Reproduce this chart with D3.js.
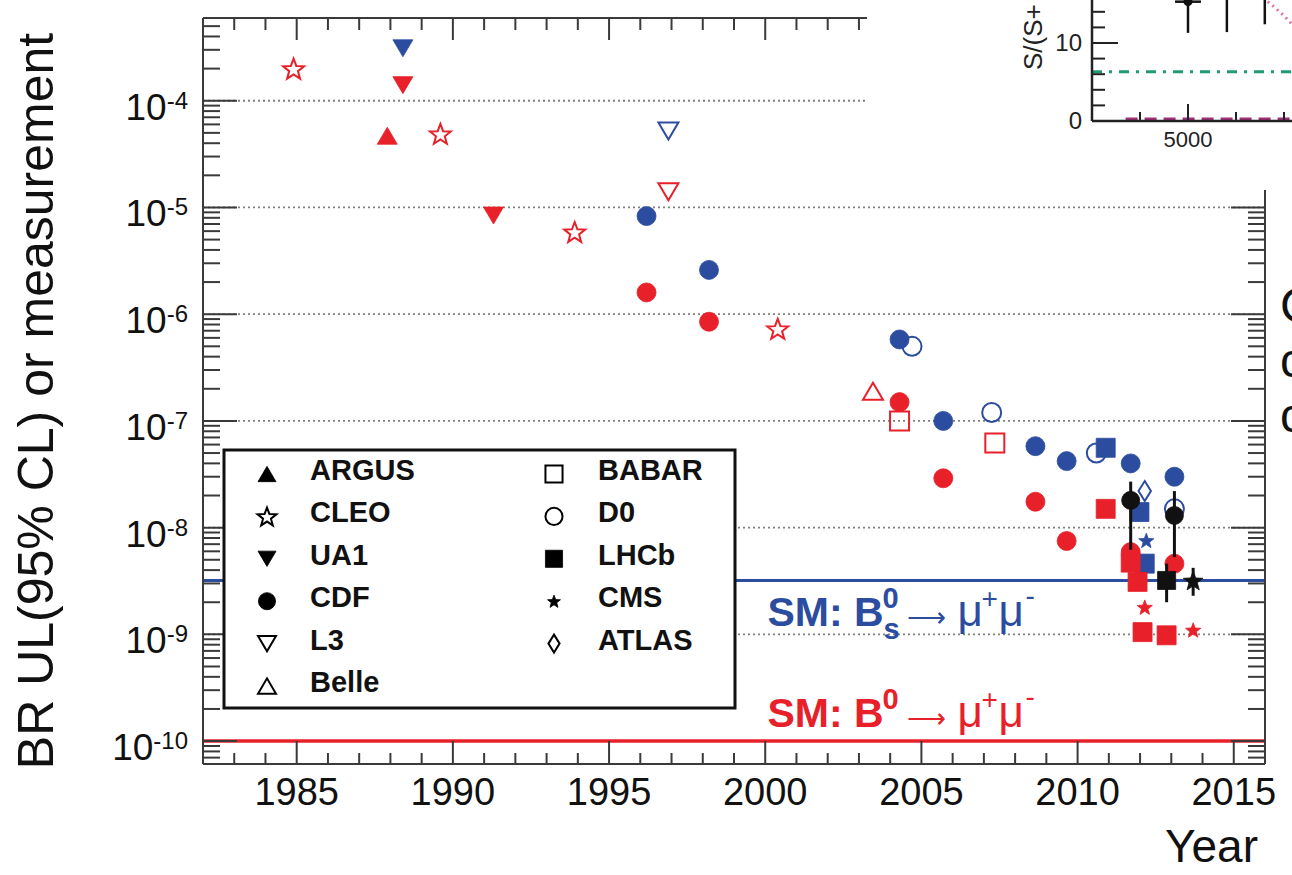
<!DOCTYPE html>
<html><head><meta charset="utf-8">
<script src="https://cdn.jsdelivr.net/npm/d3@7"></script>
<style>
html,body{margin:0;padding:0;background:#fff;}
svg{display:block;}
text{font-family:"Liberation Sans", Arial, Helvetica, sans-serif;}
</style></head><body>
<svg id="chart" width="1292" height="875"></svg>
<script>
// ---------------- data ----------------
const experiments = ["ARGUS","CLEO","UA1","CDF","L3","Belle","BABAR","D0","LHCb","CMS","ATLAS"];
const legendLeft  = ["ARGUS","CLEO","UA1","CDF","L3","Belle"];
const legendRight = ["BABAR","D0","LHCb","CMS","ATLAS"];

// Bs -> mu mu upper limits (blue): [experiment, year, BR]
const bsLimits = [
  ["UA1",1988.4,3.1e-4],["L3",1996.9,5.2e-5],["CDF",1996.2,8.3e-6],["CDF",1998.2,2.6e-6],
  ["CDF",2004.3,5.8e-7],["D0",2004.7,5.0e-7],["CDF",2005.7,1.0e-7],["D0",2007.25,1.2e-7],
  ["CDF",2008.65,5.8e-8],["CDF",2009.65,4.2e-8],["D0",2010.6,5.0e-8],["LHCb",2010.9,5.6e-8],
  ["CDF",2011.7,4.0e-8],["LHCb",2011.98,1.4e-8],["ATLAS",2012.15,2.2e-8],["CMS",2012.2,7.6e-9],
  ["LHCb",2012.15,4.6e-9],["D0",2013.1,1.5e-8],["CDF",2013.1,3.0e-8]
];
// B0 -> mu mu upper limits (red)
const b0Limits = [
  ["CLEO",1984.9,2.0e-4],["UA1",1988.4,1.4e-4],["ARGUS",1987.9,4.7e-5],["CLEO",1989.6,4.9e-5],
  ["UA1",1991.3,8.4e-6],["CLEO",1993.9,5.9e-6],["L3",1996.9,1.4e-5],["CDF",1996.2,1.6e-6],
  ["CDF",1998.2,8.5e-7],["CLEO",2000.4,7.3e-7],["Belle",2003.45,1.9e-7],["CDF",2004.3,1.5e-7],
  ["BABAR",2004.3,1.0e-7],["CDF",2005.7,2.9e-8],["BABAR",2007.35,6.2e-8],["CDF",2008.65,1.75e-8],
  ["CDF",2009.65,7.5e-9],["LHCb",2010.9,1.5e-8],["LHCb",2011.7,4.7e-9],["CDF",2011.7,5.9e-9],
  ["LHCb",2011.92,3.1e-9],["CMS",2012.15,1.8e-9],["LHCb",2012.08,1.05e-9],["LHCb",2012.85,9.8e-10],
  ["CDF",2013.1,4.6e-9],["CMS",2013.7,1.1e-9]
];
// Bs -> mu mu measurements (black): [experiment, year, BR, low, high]
const measurements = [
  ["CDF",2011.7,1.8e-8,6.2e-9,2.7e-8],
  ["LHCb",2012.85,3.2e-9,2.0e-9,4.6e-9],
  ["CDF",2013.1,1.3e-8,5.3e-9,2.2e-8],
  ["CMS",2013.7,3.2e-9,2.3e-9,4.2e-9]
];
const smBs = 3.2e-9;
const smB0 = 1.0e-10;

const xMajorTicks = [1985,1990,1995,2000,2005,2010,2015];
const xTickLabels = ["1985","1990","1995","2000","2005","2010","2015"];
const yMajorExps = [-10,-9,-8,-7,-6,-5,-4];
const yTickLabels = ["-10","-9","-8","-7","-6","-5","-4"];

// fragment of an overlapping figure in the top-right corner
const insetXTicksMajor = [5000];
const insetXTicksMinor = [4000,6000,7000];
const insetYTicksMajor = [0,10];
const insetYTicksMinor = [2,4,6,8,12,14];
const insetPtsX = [5000,5810,6600];
const insetPtsY = [15.3,16.5,17.5];
const insetPtsLo = [11.3,11.4,12.4];
const insetPtsHi = [19,20,21];
const insetLevel = 6.3;
const insetCurveX = [6660,6800,7000,7200];
const insetCurveY = [15.3,14.6,13.5,12.2];

// ---------------- scales ----------------
const svg = d3.select("#chart");
const x = d3.scaleLinear().domain([1982, 2016]).range([203, 1265]);
const y = d3.scaleLog().domain([6.1e-11, 5.96e-4]).range([764, 18]);
const X0 = x.range()[0], X1 = x.range()[1], Y0 = y.range()[0], Y1 = y.range()[1];

const BLUE = "#2c4c9f", RED = "#e8202a", BLACK = "#111";
const AX = "#3a3a3a";

const markerSpec = {
  ARGUS:{shape:"triUp",open:false,size:20}, CLEO:{shape:"star",open:true,size:22},
  UA1:{shape:"triDown",open:false,size:20}, CDF:{shape:"circle",open:false,size:19},
  L3:{shape:"triDown",open:true,size:20}, Belle:{shape:"triUp",open:true,size:20},
  BABAR:{shape:"square",open:true,size:19}, D0:{shape:"circle",open:true,size:19},
  LHCb:{shape:"square",open:false,size:19}, CMS:{shape:"star",open:false,size:16},
  ATLAS:{shape:"diamond",open:true,size:20}
};
function shapePath(shape, s){
  const h = s/2;
  switch(shape){
    case "triUp": { const t=s*0.85/2; return `M${-h},${t}L${h},${t}L0,${-t}Z`; }
    case "triDown": { const t=s*0.85/2; return `M${-h},${-t}L${h},${-t}L0,${t}Z`; }
    case "circle": return `M${h},0A${h},${h} 0 1,1 ${-h},0A${h},${h} 0 1,1 ${h},0Z`;
    case "square": return `M${-h},${-h}H${h}V${h}H${-h}Z`;
    case "star": { let p=""; for(let i=0;i<10;i++){ const r=i%2?h*0.42:h; const a=-Math.PI/2+i*Math.PI/5;
        p+=(i?"L":"M")+(r*Math.cos(a)).toFixed(2)+","+(r*Math.sin(a)+h*0.1).toFixed(2);} return p+"Z"; }
    case "diamond": return `M0,${-h}L${h*0.62},0L0,${h}L${-h*0.62},0Z`;
  }
}
function drawMarker(g, exp, cx, cy, color, scale){
  const m = markerSpec[exp];
  const s = m.size*(scale||1);
  g.append("path").attr("d", shapePath(m.shape, s))
    .attr("transform", `translate(${cx},${cy})`)
    .attr("fill", m.open ? "none" : color)
    .attr("stroke", color)
    .attr("stroke-width", m.open ? 2 : 0.8);
}

// ---------------- grid ----------------
svg.append("g").selectAll("line").data(yMajorExps.filter(e=>e>-10)).join("line")
  .attr("x1", X0).attr("x2", X1)
  .attr("y1", d=>y(Math.pow(10,d))).attr("y2", d=>y(Math.pow(10,d)))
  .attr("stroke", "#808080").attr("stroke-width", 1.8).attr("stroke-dasharray", "2,3");

// ---------------- SM lines ----------------
svg.append("line").attr("x1",X0).attr("x2",X1).attr("y1",y(smBs)).attr("y2",y(smBs))
  .attr("stroke",BLUE).attr("stroke-width",3);
svg.append("line").attr("x1",X0).attr("x2",X1).attr("y1",y(smB0)).attr("y2",y(smB0))
  .attr("stroke",RED).attr("stroke-width",3.5);

// ---------------- axes ----------------
const axes = svg.append("g").attr("stroke", AX).attr("stroke-width", 2);
axes.append("line").attr("x1",X0).attr("x2",X0).attr("y1",Y1).attr("y2",Y0);
axes.append("line").attr("x1",X1).attr("x2",X1).attr("y1",Y1).attr("y2",Y0);
axes.append("line").attr("x1",X0).attr("x2",X1).attr("y1",Y0).attr("y2",Y0);
axes.append("line").attr("x1",X0).attr("x2",X1).attr("y1",Y1).attr("y2",Y1);

const xMinor = d3.range(1983, 2017).filter(v => !xMajorTicks.includes(v));
[[xMajorTicks,23,22],[xMinor,11,12]].forEach(([arr,lb,lt])=>{
  axes.append("g").selectAll("line").data(arr).join("line")
    .attr("x1",d=>x(d)).attr("x2",d=>x(d)).attr("y1",Y0).attr("y2",Y0-lb);
  axes.append("g").selectAll("line").data(arr).join("line")
    .attr("x1",d=>x(d)).attr("x2",d=>x(d)).attr("y1",Y1).attr("y2",Y1+lt);
});
const yMinor = [];
for (let e=-11; e<=-4; e++) for (let m=2; m<=9; m++){ const v=m*Math.pow(10,e); if (v>y.domain()[0] && v<y.domain()[1]) yMinor.push(v); }
const yMajor = yMajorExps.map(e=>Math.pow(10,e));
[[yMajor,34],[yMinor,17]].forEach(([arr,l])=>{
  axes.append("g").selectAll("line").data(arr).join("line")
    .attr("x1",X0).attr("x2",X0+l).attr("y1",d=>y(d)).attr("y2",d=>y(d));
  axes.append("g").selectAll("line").data(arr).join("line")
    .attr("x1",X1).attr("x2",X1-l).attr("y1",d=>y(d)).attr("y2",d=>y(d));
});

// tick labels
svg.append("g").selectAll("text").data(xMajorTicks).join("text")
  .attr("x", d=>x(d)).attr("y", 805).attr("text-anchor","middle")
  .attr("font-size", 38).attr("fill","#111").text((d,i)=>xTickLabels[i]);
const yl = svg.append("g").selectAll("text").data(yMajorExps).join("text")
  .attr("x", 188).attr("y", d=>y(Math.pow(10,d))+19).attr("text-anchor","end")
  .attr("font-size", 37).attr("fill","#111");
yl.append("tspan").text("10");
yl.append("tspan").attr("font-size",24).attr("dy",-11).text((d,i)=>yTickLabels[i]);

// axis titles
svg.append("text").attr("transform","translate(53,401) rotate(-90)").attr("text-anchor","middle")
  .attr("font-size",50).attr("fill","#111").text("BR UL(95% CL) or measurement");
svg.append("text").attr("x",1258).attr("y",862).attr("text-anchor","end")
  .attr("font-size",46).attr("fill","#111").text("Year");

// ---------------- legend ----------------
const leg = svg.append("g");
leg.append("rect").attr("x",224).attr("y",450).attr("width",511).attr("height",258)
  .attr("fill","#fff").attr("stroke","#111").attr("stroke-width",3);
[[legendLeft,267,310],[legendRight,554,598]].forEach(([names,mx,tx])=>{
  names.forEach((n,i)=>{
    const base = 480 + i*42.4;
    drawMarker(leg, n, mx, base-6, "#000", n==="CMS"?0.85:0.9);
    leg.append("text").attr("x",tx).attr("y",base).attr("font-size",29)
      .attr("font-weight","bold").attr("fill","#111").text(n);
  });
});

// ---------------- SM labels ----------------
function smLabel(val, dyBase, color, sub){
  const b = y(val) + dyBase;
  const g = svg.append("g").attr("fill", color);
  const x0 = x(2000.07);
  g.append("text").attr("x",x0).attr("y",b).attr("font-size",41).attr("font-weight","bold").text("SM: B");
  g.append("text").attr("x",x0+115).attr("y",b-18).attr("font-size",29).attr("font-weight","bold").text("0");
  if (sub) g.append("text").attr("x",x0+116).attr("y",b+13).attr("font-size",29).attr("font-weight","bold").text(sub);
  g.append("text").attr("x",x0+140).attr("y",b+1).attr("font-size",30).attr("font-family","DejaVu Sans")
    .attr("textLength",39).attr("lengthAdjust","spacingAndGlyphs").text("\u27F6");
  g.append("text").attr("x",x0+190).attr("y",b).attr("font-size",44).attr("font-family","Liberation Serif").text("\u03bc");
  g.append("text").attr("x",x0+214).attr("y",b-18).attr("font-size",28).attr("font-family","Liberation Serif").text("+");
  g.append("text").attr("x",x0+231).attr("y",b).attr("font-size",44).attr("font-family","Liberation Serif").text("\u03bc");
  g.append("text").attr("x",x0+258).attr("y",b-21).attr("font-size",28).attr("font-family","Liberation Serif").text("-");
}
smLabel(smBs, 46, BLUE, "s");
smLabel(smB0, -14, RED, null);

// ---------------- data points ----------------
const pts = svg.append("g");
const openFirst = (arr,color)=>arr.filter(d=>markerSpec[d[0]].open).forEach(d=>drawMarker(pts,d[0],x(d[1]),y(d[2]),color));
const filled = (arr,color)=>arr.filter(d=>!markerSpec[d[0]].open).forEach(d=>drawMarker(pts,d[0],x(d[1]),y(d[2]),color));
openFirst(bsLimits, BLUE);
openFirst(b0Limits, RED);
filled(bsLimits, BLUE);
filled(b0Limits, RED);
measurements.forEach(d=>{
  pts.append("line").attr("x1",x(d[1])).attr("x2",x(d[1])).attr("y1",y(d[3])).attr("y2",y(d[4]))
    .attr("stroke",BLACK).attr("stroke-width",3);
});
measurements.forEach(d=>drawMarker(pts,d[0],x(d[1]),y(d[2]),BLACK, d[0]==="CMS"?1.3:0.95));

// ---------------- overlapping fragment (top right) ----------------
const ix = d3.scaleLinear().domain([5000,6000]).range([1188,1236]);
const iy = d3.scaleLinear().domain([0,10]).range([121,43]);
const ins = svg.append("g");
ins.append("rect").attr("x",867).attr("y",0).attr("width",425).attr("height",190).attr("fill","#fff");
const IX0 = ix.invert(1092), IX1 = ix.invert(1292);
ins.append("line").attr("x1",ix(IX0)).attr("x2",ix(IX1)).attr("y1",iy(insetLevel)).attr("y2",iy(insetLevel))
  .attr("stroke","#1f9a76").attr("stroke-width",3).attr("stroke-dasharray","10,7,3,7");
ins.append("line").attr("x1",ix(3700)).attr("x2",ix(IX1)).attr("y1",iy(0.25)).attr("y2",iy(0.25))
  .attr("stroke","#a0307a").attr("stroke-width",3).attr("stroke-dasharray","12,7");
ins.append("path").attr("d", d3.line().x((d,i)=>ix(d)).y((d,i)=>iy(insetCurveY[i]))(insetCurveX))
  .attr("fill","none").attr("stroke","#e070a8").attr("stroke-width",3).attr("stroke-dasharray","2,4");
ins.append("line").attr("x1",ix(IX0)).attr("x2",ix(IX0)).attr("y1",0).attr("y2",iy(0)).attr("stroke","#222").attr("stroke-width",2.5);
ins.append("line").attr("x1",ix(IX0)).attr("x2",ix(IX1)).attr("y1",iy(0)).attr("y2",iy(0)).attr("stroke","#222").attr("stroke-width",2.5);
[[insetYTicksMajor,26],[insetYTicksMinor,13]].forEach(([arr,l])=>{
  ins.append("g").selectAll("line").data(arr).join("line")
    .attr("x1",ix(IX0)).attr("x2",ix(IX0)+l).attr("y1",d=>iy(d)).attr("y2",d=>iy(d))
    .attr("stroke","#222").attr("stroke-width",2);
});
[[insetXTicksMajor,17],[insetXTicksMinor,9]].forEach(([arr,l])=>{
  ins.append("g").selectAll("line").data(arr).join("line")
    .attr("x1",d=>ix(d)).attr("x2",d=>ix(d)).attr("y1",iy(0)).attr("y2",iy(0)-l)
    .attr("stroke","#222").attr("stroke-width",2);
});
ins.append("g").selectAll("text").data(insetYTicksMajor).join("text")
  .attr("x",1082).attr("y",d=>iy(d)+8).attr("text-anchor","end").attr("font-size",24).attr("fill","#222").text(d=>d);
ins.append("g").selectAll("text").data(insetXTicksMajor).join("text")
  .attr("x",d=>ix(d)).attr("y",147).attr("text-anchor","middle").attr("font-size",22).attr("fill","#222").text(d=>d);
ins.append("text").attr("transform","translate(1042,70) rotate(-90)").attr("font-size",26).attr("fill","#222").text("S/(S+");
insetPtsX.forEach((px,i)=>{
  ins.append("line").attr("x1",ix(px)).attr("x2",ix(px)).attr("y1",iy(insetPtsLo[i])).attr("y2",iy(insetPtsHi[i]))
    .attr("stroke","#111").attr("stroke-width",2.5);
  ins.append("line").attr("x1",ix(px-270)).attr("x2",ix(px+270)).attr("y1",iy(insetPtsY[i])).attr("y2",iy(insetPtsY[i]))
    .attr("stroke","#111").attr("stroke-width",2.5);
  ins.append("circle").attr("cx",ix(px)).attr("cy",iy(insetPtsY[i])).attr("r",4.5).attr("fill","#111");
});

// clipped text fragment at right edge
["C","c","c"].forEach((t,i)=>{
  svg.append("text").attr("x",1280).attr("y",322+i*55).attr("font-size",48).attr("fill","#111").text(t);
});
</script>
</body></html>
